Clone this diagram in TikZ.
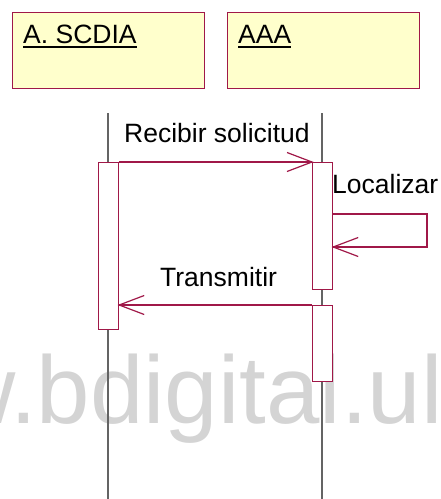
\documentclass[tikz,border=0pt]{standalone}
\usepackage{fontspec}
\setmainfont{Liberation Sans}
\usetikzlibrary{calc}
\definecolor{umlred}{RGB}{160,24,72}
\definecolor{umlfill}{RGB}{255,255,204}
\definecolor{lifegray}{RGB}{100,100,100}
\definecolor{wmgray}{RGB}{212,212,212}
\tikzset{
  headbox/.style={draw=umlred, fill=umlfill, line width=1.2pt, minimum width=192pt, minimum height=76pt, inner sep=0pt, anchor=north west},
  actbox/.style={draw=umlred, fill=white, line width=1.2pt, minimum width=20pt, inner sep=0pt, anchor=north west},
  lbl/.style={inner sep=0pt, anchor=base west, font=\fontsize{26.5}{30}\selectfont},
  lifeline/.style={draw=lifegray, line width=1.2pt},
  msg/.style={draw=umlred, line width=1.2pt},
  uline/.style={line width=2pt}
}
\begin{document}
\begin{tikzpicture}[x=1pt,y=-1pt]
\useasboundingbox (0,0) rectangle (441,499);
\begin{scope}
\clip (0,0) rectangle (441,499);
\node[inner sep=0pt, anchor=base west, text=wmgray, font=\fontsize{96}{100}\selectfont] (wm) at (-54,423) {w.bdigital.ul};
\end{scope}
% headers
\node[headbox] (h1) at (12,12) {};
\node[headbox] (h2) at (227,12) {};
\node[lbl] (t1) at (23,43) {A. SCDIA};
\node[lbl] (t2) at (238,43) {AAA};
\draw[uline] ([yshift=-3.5pt]t1.base west) -- ([yshift=-3.5pt]t1.base east);
\draw[uline] ([yshift=-3.5pt]t2.base west) -- ([yshift=-3.5pt]t2.base east);
% lifelines
\coordinate (l1top) at (108,113);
\coordinate (l1bot) at (108,499);
\coordinate (l2top) at (322,113);
\coordinate (l2bot) at (322,499);
\draw[lifeline] (l1top) -- (l1bot);
\draw[lifeline] (l2top) -- (l2bot);
% activation boxes
\node[actbox, minimum height=167pt] (a1) at (98,162) {};
\node[actbox, minimum height=127pt] (a2) at (312,162) {};
\node[actbox, minimum height=76pt] (a3) at (312,305) {};
% message 1
\draw[msg] (a1.north east) -- (a2.north west);
\draw[msg] ($(a2.north west)+(-25,-9.5)$) -- (a2.north west) -- ($(a2.north west)+(-25,9.5)$);
\node[lbl] (m1) at (124,142) {Recibir solicitud};
% self message
\coordinate (s1) at (427,214);
\coordinate (s2) at (427,247);
\coordinate (s3) at (a2.east |- s2);
\draw[msg] (a2.east |- s1) -- (s1) -- (s2) -- (s3);
\draw[msg] ($(s3)+(25,-9.5)$) -- (s3) -- ($(s3)+(25,9.5)$);
\node[lbl] (m2) at (332,193) {Localizar};
% message 3
\coordinate (r3) at (a1.east |- a3.north);
\draw[msg] (a3.north west) -- (r3);
\draw[msg] ($(r3)+(25,-9.5)$) -- (r3) -- ($(r3)+(25,9.5)$);
\node[lbl] (m3) at (160,286) {Transmitir};
\end{tikzpicture}
\end{document}
